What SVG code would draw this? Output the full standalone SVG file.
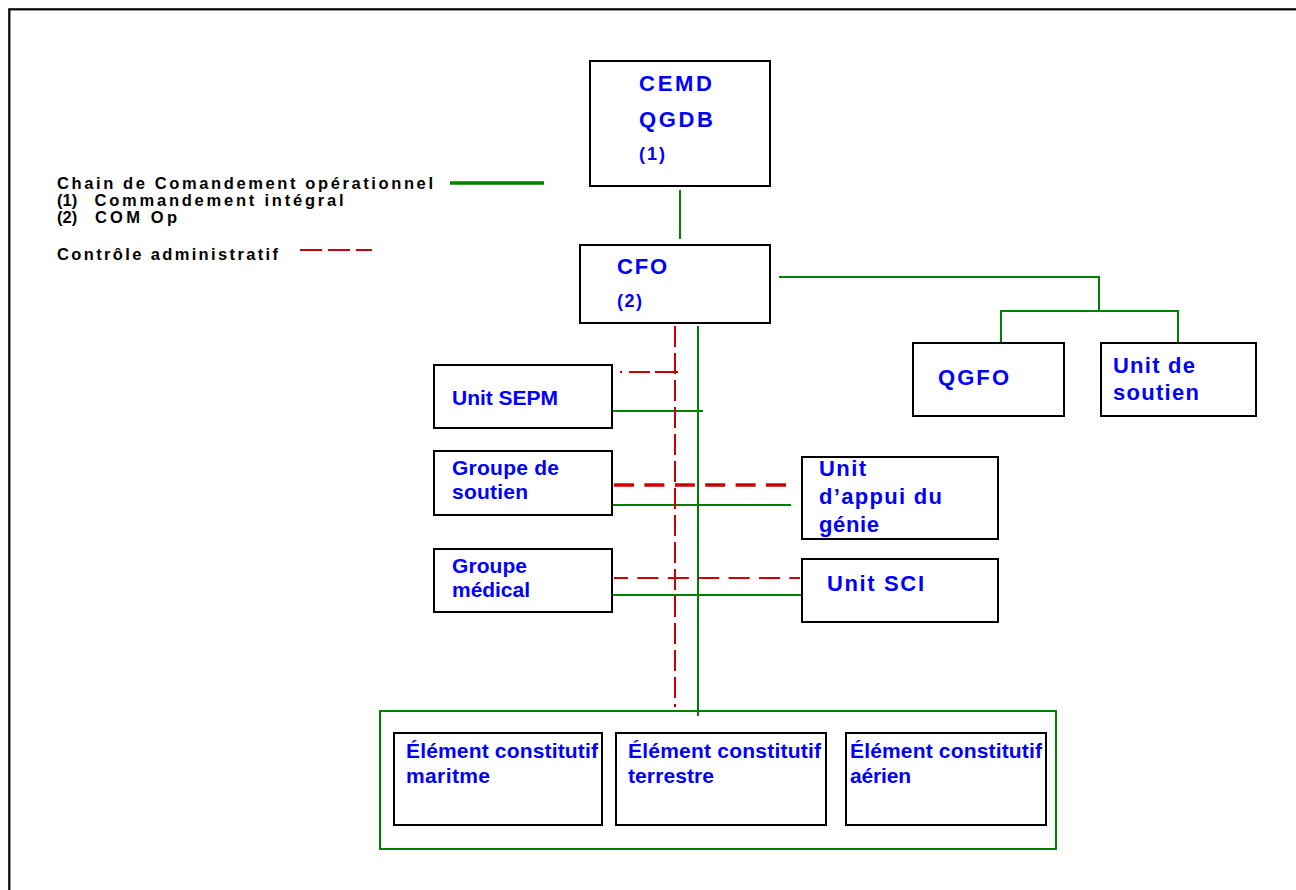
<svg xmlns="http://www.w3.org/2000/svg" width="1296" height="890" viewBox="0 0 1296 890">
  <style>
    .frame { fill: #ffffff; stroke: #000000; stroke-width: 2.2; }
    .box { fill: #ffffff; stroke: #000000; stroke-width: 2; }
    .group { fill: none; stroke: #008000; stroke-width: 2; }
    .lbl { font-family: "Liberation Sans", Arial, sans-serif; font-weight: bold; font-size: 22px; fill: #0000ff; }
    .lbl-s { font-size: 18px; }
    .lbl-e { font-size: 21px; }
    .leg { font-family: "Liberation Sans", Arial, sans-serif; font-weight: bold; font-size: 16.5px; fill: #000000; }
    .cmd { fill: none; stroke: #008000; stroke-width: 2; }
    .adm { fill: none; stroke: #cc0000; stroke-width: 2; }
  </style>

  <!-- page frame -->
  <rect class="frame" x="9.3" y="9.3" width="1400" height="1000"/>

  <!-- legend -->
  <g id="legend">
    <text class="leg" x="57" y="189" textLength="376" lengthAdjust="spacing">Chain de Comandement opérationnel</text>
    <text class="leg" y="206"><tspan x="57">(1)</tspan><tspan x="94.5" textLength="249" lengthAdjust="spacing">Commandement intégral</tspan></text>
    <text class="leg" y="223"><tspan x="57">(2)</tspan><tspan x="95" textLength="82" lengthAdjust="spacing">COM Op</tspan></text>
    <text class="leg" x="57" y="260" textLength="221" lengthAdjust="spacing">Contrôle administratif</text>
    <line x1="450" y1="183" x2="544" y2="183" stroke="#008000" stroke-width="3.5"/>
    <line class="adm" x1="300" y1="250" x2="372" y2="250" style="stroke-dasharray: 22 6"/>
  </g>

  <!-- connectors -->
  <g id="connectors">
    <!-- operational command chain -->
    <line class="cmd" x1="680" y1="190" x2="680" y2="239"/>
    <polyline class="cmd" points="779,277 1099,277 1099,311"/>
    <polyline class="cmd" points="1001,343 1001,311 1178,311 1178,343"/>
    <line class="cmd" x1="698" y1="326" x2="698" y2="716"/>
    <line class="cmd" x1="612" y1="411" x2="703" y2="411"/>
    <line class="cmd" x1="612" y1="505" x2="791" y2="505"/>
    <line class="cmd" x1="612" y1="595" x2="802" y2="595"/>
    <!-- administrative control -->
    <line class="adm" x1="675" y1="326" x2="675" y2="707" style="stroke-dasharray: 21 6"/>
    <line class="adm" x1="620" y1="372" x2="678" y2="372" style="stroke-dasharray: 2 7 21 5 23 100"/>
    <line class="adm" x1="614" y1="485" x2="789" y2="485" style="stroke-width: 3.6; stroke-dasharray: 20 10.4"/>
    <line class="adm" x1="614" y1="578" x2="800" y2="578" style="stroke-dasharray: 21 9.4; stroke-dashoffset: 7"/>
  </g>

  <g id="cemd">
    <rect class="box" x="590" y="61" width="180" height="125"/>
    <text class="lbl" x="639" y="91" textLength="73" lengthAdjust="spacing">CEMD</text>
    <text class="lbl" x="639" y="126.5" textLength="74" lengthAdjust="spacing">QGDB</text>
    <text class="lbl lbl-s" x="639" y="160" textLength="26" lengthAdjust="spacing">(1)</text>
  </g>

  <g id="cfo">
    <rect class="box" x="580" y="245" width="190" height="78"/>
    <text class="lbl" x="617" y="274" textLength="50" lengthAdjust="spacing">CFO</text>
    <text class="lbl lbl-s" x="617" y="306.5" textLength="25" lengthAdjust="spacing">(2)</text>
  </g>

  <g id="qgfo">
    <rect class="box" x="913" y="343" width="151" height="73"/>
    <text class="lbl" x="938" y="385" textLength="71" lengthAdjust="spacing">QGFO</text>
  </g>

  <g id="unit-soutien">
    <rect class="box" x="1101" y="343" width="155" height="73"/>
    <text class="lbl" x="1113" y="372.5" textLength="82" lengthAdjust="spacing">Unit de</text>
    <text class="lbl" x="1113" y="400" textLength="86" lengthAdjust="spacing">soutien</text>
  </g>

  <g id="unit-sepm">
    <rect class="box" x="434" y="365" width="178" height="63"/>
    <text class="lbl lbl-e" x="452" y="405" textLength="106" lengthAdjust="spacing">Unit SEPM</text>
  </g>

  <g id="groupe-soutien">
    <rect class="box" x="434" y="451" width="178" height="64"/>
    <text class="lbl lbl-e" x="452" y="475" textLength="107" lengthAdjust="spacing">Groupe de</text>
    <text class="lbl lbl-e" x="452" y="498.5" textLength="76" lengthAdjust="spacing">soutien</text>
  </g>

  <g id="groupe-medical">
    <rect class="box" x="434" y="549" width="178" height="63"/>
    <text class="lbl lbl-e" x="452" y="572.5" textLength="75" lengthAdjust="spacing">Groupe</text>
    <text class="lbl lbl-e" x="452" y="596.5" textLength="78" lengthAdjust="spacing">médical</text>
  </g>

  <g id="unit-appui-genie">
    <rect class="box" x="802" y="457" width="196" height="82"/>
    <text class="lbl" x="819" y="476" textLength="47" lengthAdjust="spacing">Unit</text>
    <text class="lbl" x="819" y="504" textLength="123" lengthAdjust="spacing">d’appui du</text>
    <text class="lbl" x="819" y="532" textLength="60" lengthAdjust="spacing">génie</text>
  </g>

  <g id="unit-sci">
    <rect class="box" x="802" y="559" width="196" height="63"/>
    <text class="lbl" x="827" y="590.5" textLength="97" lengthAdjust="spacing">Unit SCI</text>
  </g>

  <!-- force components -->
  <g id="elements">
    <rect class="group" x="380" y="711" width="676" height="138"/>
    <g id="element-maritime">
      <rect class="box" x="394" y="733" width="208" height="92"/>
      <text class="lbl lbl-e" x="406" y="757.5" textLength="192" lengthAdjust="spacing">Élément constitutif</text>
      <text class="lbl lbl-e" x="406" y="782.5" textLength="84" lengthAdjust="spacing">maritme</text>
    </g>
    <g id="element-terrestre">
      <rect class="box" x="616" y="733" width="210" height="92"/>
      <text class="lbl lbl-e" x="628" y="757.5" textLength="193" lengthAdjust="spacing">Élément constitutif</text>
      <text class="lbl lbl-e" x="628" y="782.5" textLength="86" lengthAdjust="spacing">terrestre</text>
    </g>
    <g id="element-aerien">
      <rect class="box" x="846" y="733" width="200" height="92"/>
      <text class="lbl lbl-e" x="850" y="757.5" textLength="192" lengthAdjust="spacing">Élément constitutif</text>
      <text class="lbl lbl-e" x="850" y="782.5" textLength="61" lengthAdjust="spacing">aérien</text>
    </g>
  </g>
</svg>
